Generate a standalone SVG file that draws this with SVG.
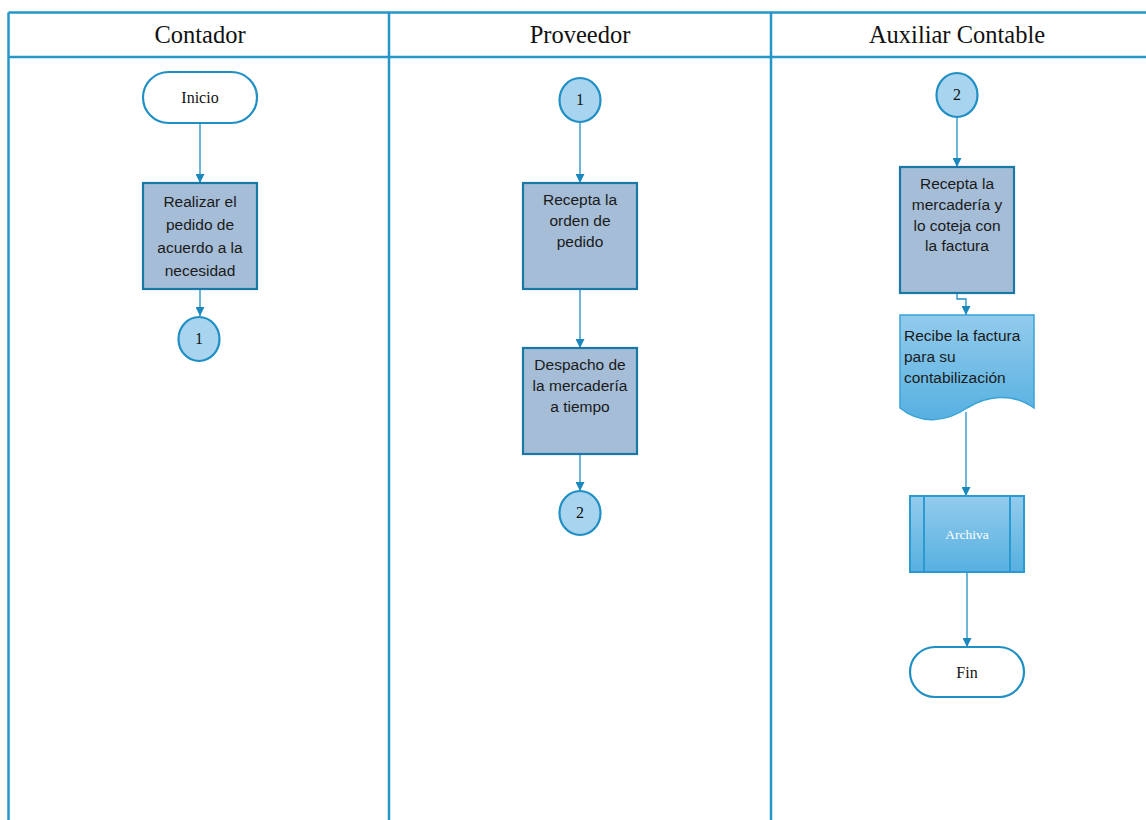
<svg xmlns="http://www.w3.org/2000/svg" width="1146" height="820" viewBox="0 0 1146 820">
  <defs>
    <marker id="arrow" viewBox="0 0 10 10" refX="10" refY="5" markerWidth="9" markerHeight="9" markerUnits="userSpaceOnUse" orient="auto">
      <path d="M0,0 L10,5 L0,10 Z" fill="#1a88bd"/>
    </marker>
    <linearGradient id="blueGrad" x1="0" y1="0" x2="0" y2="1">
      <stop offset="0" stop-color="#93cbec"/>
      <stop offset="1" stop-color="#56b0e1"/>
    </linearGradient>
    <style>
      .lane { fill: none; stroke: #2596c8; stroke-width: 2.5; }
      .head { font-family: "Liberation Serif", serif; font-size: 24.5px; fill: #111; text-anchor: middle; }
      .term { fill: #fff; stroke: #1f8fc4; stroke-width: 2.2; }
      .proc { fill: #a5bdd6; stroke: #1a78a8; stroke-width: 2.2; }
      .conn { fill: #a8d4ef; stroke: #1f8fc4; stroke-width: 2.2; }
      .ser { font-family: "Liberation Serif", serif; font-size: 16px; fill: #111; text-anchor: middle; }
      .sans { font-family: "Liberation Sans", Arial, sans-serif; font-size: 15.5px; fill: #1a1a1a; text-anchor: middle; }
      .left { text-anchor: start; }
      .edge { fill: none; stroke: #1f8fc4; stroke-width: 1.3; marker-end: url(#arrow); }
    </style>
  </defs>

  <!-- swimlane frame -->
  <g id="lanes">
    <line class="lane" x1="8.5" y1="12.5" x2="1146" y2="12.5"/>
    <line class="lane" x1="8.5" y1="57" x2="1146" y2="57"/>
    <line class="lane" x1="8.5" y1="12.5" x2="8.5" y2="820"/>
    <line class="lane" x1="389" y1="12.5" x2="389" y2="820"/>
    <line class="lane" x1="771" y1="12.5" x2="771" y2="820"/>
    <text class="head" x="200" y="43">Contador</text>
    <text class="head" x="580" y="43">Proveedor</text>
    <text class="head" x="957" y="43">Auxiliar Contable</text>
  </g>

  <!-- connectors -->
  <g id="connectors">
    <line class="edge" x1="200" y1="123" x2="200" y2="183"/>
    <line class="edge" x1="200" y1="289" x2="200" y2="316"/>
    <line class="edge" x1="580" y1="122" x2="580" y2="183"/>
    <line class="edge" x1="580" y1="289" x2="580" y2="348"/>
    <line class="edge" x1="580" y1="454" x2="580" y2="491"/>
    <line class="edge" x1="957" y1="117" x2="957" y2="167"/>
    <polyline class="edge" points="957,293 957,299 966,299 966,315"/>
    <line class="edge" x1="966" y1="412" x2="966" y2="496"/>
    <line class="edge" x1="967" y1="572" x2="967" y2="647"/>
  </g>

  <!-- Contador -->
  <g id="inicio">
    <rect class="term" x="143" y="72" width="114" height="51" rx="25.5"/>
    <text class="ser" x="200" y="103">Inicio</text>
  </g>
  <g id="realizar-pedido">
    <rect class="proc" x="143" y="183" width="114" height="106"/>
    <text class="sans" x="200" y="207">Realizar el</text>
    <text class="sans" x="200" y="230">pedido de</text>
    <text class="sans" x="200" y="253">acuerdo a la</text>
    <text class="sans" x="200" y="276">necesidad</text>
  </g>
  <g id="conector-1-salida">
    <ellipse class="conn" cx="199" cy="339" rx="20.5" ry="22"/>
    <text class="ser" x="199" y="344">1</text>
  </g>

  <!-- Proveedor -->
  <g id="conector-1-entrada">
    <ellipse class="conn" cx="580" cy="100" rx="20.5" ry="22"/>
    <text class="ser" x="580" y="105">1</text>
  </g>
  <g id="recepta-orden">
    <rect class="proc" x="523" y="183" width="114" height="106"/>
    <text class="sans" x="580" y="205">Recepta la</text>
    <text class="sans" x="580" y="226">orden de</text>
    <text class="sans" x="580" y="247">pedido</text>
  </g>
  <g id="despacho">
    <rect class="proc" x="523" y="348" width="114" height="106"/>
    <text class="sans" x="580" y="370">Despacho de</text>
    <text class="sans" x="580" y="391">la mercadería</text>
    <text class="sans" x="580" y="412">a tiempo</text>
  </g>
  <g id="conector-2-salida">
    <ellipse class="conn" cx="580" cy="513" rx="20.5" ry="22"/>
    <text class="ser" x="580" y="518">2</text>
  </g>

  <!-- Auxiliar Contable -->
  <g id="conector-2-entrada">
    <ellipse class="conn" cx="957" cy="95" rx="20.5" ry="22"/>
    <text class="ser" x="957" y="100">2</text>
  </g>
  <g id="recepta-mercaderia">
    <rect class="proc" x="900" y="167" width="114" height="126"/>
    <text class="sans" x="957" y="189">Recepta la</text>
    <text class="sans" x="957" y="210">mercadería y</text>
    <text class="sans" x="957" y="231">lo coteja con</text>
    <text class="sans" x="957" y="251">la factura</text>
  </g>
  <g id="recibe-factura">
    <path d="M900,315 H1034 V408 C1012,392 986,396 967,408 C948,421 922,426 900,408 Z" fill="url(#blueGrad)" stroke="#3aa3d6" stroke-width="1.5"/>
    <text class="sans left" x="904" y="341">Recibe la factura</text>
    <text class="sans left" x="904" y="362">para su</text>
    <text class="sans left" x="904" y="383">contabilización</text>
  </g>
  <g id="archiva">
    <rect x="910" y="496" width="114" height="76" fill="url(#blueGrad)" stroke="#2a9ad0" stroke-width="2"/>
    <line x1="924" y1="496" x2="924" y2="572" stroke="#2a9ad0" stroke-width="2"/>
    <line x1="1010" y1="496" x2="1010" y2="572" stroke="#2a9ad0" stroke-width="2"/>
    <text class="ser" x="967" y="539" style="fill:#fff;font-size:13.5px">Archiva</text>
  </g>
  <g id="fin">
    <rect class="term" x="910" y="647" width="114" height="50" rx="25"/>
    <text class="ser" x="967" y="678">Fin</text>
  </g>
</svg>
